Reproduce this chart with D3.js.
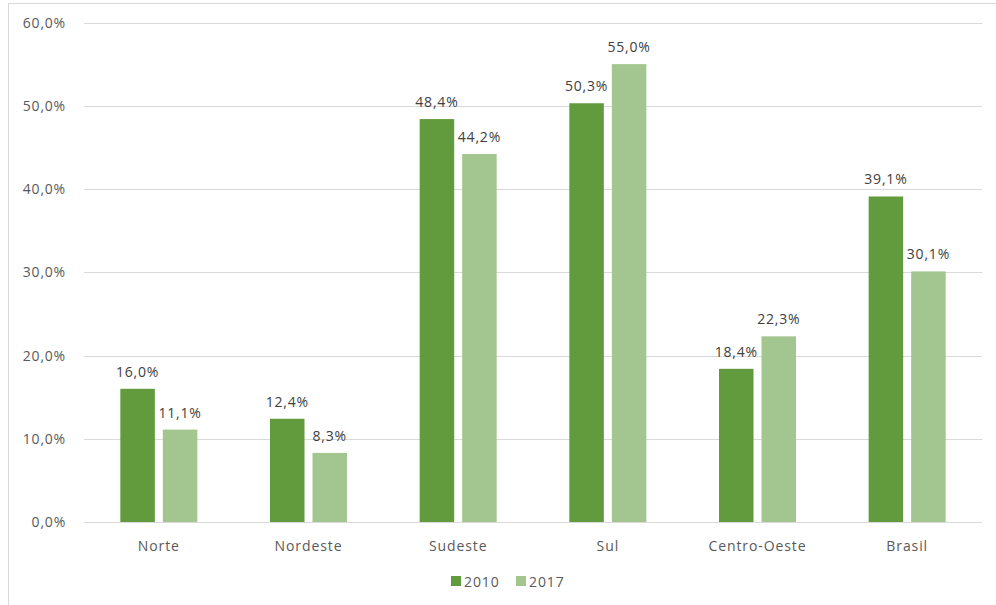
<!DOCTYPE html>
<html>
<head>
<meta charset="utf-8">
<script src="https://cdn.jsdelivr.net/npm/d3@7"></script>
<style>
  html, body { margin: 0; padding: 0; background: #fff; }
  svg { display: block; font-family: "Open Sans", sans-serif; }
</style>
</head>
<body>
<div id="chart"></div>
<script>
(() => {
  // data
  const categories = ["Norte", "Nordeste", "Sudeste", "Sul", "Centro-Oeste", "Brasil"];
  const seriesNames = ["2010", "2017"];
  const values2010 = [16.0, 12.4, 48.4, 50.3, 18.4, 39.1];
  const values2017 = [11.1, 8.3, 44.2, 55.0, 22.3, 30.1];
  const yTicks = [0, 10, 20, 30, 40, 50, 60];
  const colors = ["#629a3e", "#a3c58f"];

  const width = 996, height = 605;
  const fmt = v => v.toFixed(1).replace(".", ",") + "%";

  const svg = d3.select("#chart").append("svg")
    .attr("width", width).attr("height", height);

  // chart frame
  svg.append("rect")
    .attr("x", 8.5).attr("y", 3.5)
    .attr("width", width + 20).attr("height", height + 20)
    .attr("fill", "none").attr("stroke", "#d9d9d9").attr("stroke-width", 1);

  const x = d3.scaleBand().domain(categories).range([84, 982]);
  const y = d3.scaleLinear().domain([0, 60]).range([522, 22.5]);
  const barW = 34.5, gap = 8;

  // gridlines
  svg.append("g").selectAll("line")
    .data(yTicks)
    .join("line")
    .attr("x1", 84).attr("x2", 982)
    .attr("y1", d => Math.round(y(d)) + 0.5)
    .attr("y2", d => Math.round(y(d)) + 0.5)
    .attr("stroke", "#d9d9d9").attr("stroke-width", 1);

  // y tick labels
  svg.append("g").selectAll("text")
    .data(yTicks)
    .join("text")
    .attr("x", 66).attr("y", d => y(d) + 5)
    .attr("text-anchor", "end")
    .attr("font-size", 14).attr("letter-spacing", 0.8)
    .attr("fill", "#595959")
    .text(d => fmt(d));

  const series = [values2010, values2017];
  const offsets = [-gap / 2 - barW, gap / 2];

  series.forEach((vals, si) => {
    const g = svg.append("g");
    g.selectAll("rect")
      .data(vals)
      .join("rect")
      .attr("x", (d, i) => x(categories[i]) + x.bandwidth() / 2 + offsets[si])
      .attr("y", d => y(d))
      .attr("width", barW)
      .attr("height", d => y(0) - y(d))
      .attr("fill", colors[si]);

    g.selectAll("text")
      .data(vals)
      .join("text")
      .attr("x", (d, i) => x(categories[i]) + x.bandwidth() / 2 + offsets[si] + barW / 2)
      .attr("y", d => y(d) - 12)
      .attr("text-anchor", "middle")
      .attr("font-size", 14).attr("letter-spacing", 0.8)
      .attr("fill", "#404040")
      .text(d => fmt(d));
  });

  // category labels
  svg.append("g").selectAll("text")
    .data(categories)
    .join("text")
    .attr("x", d => x(d) + x.bandwidth() / 2)
    .attr("y", 551)
    .attr("text-anchor", "middle")
    .attr("font-size", 14).attr("letter-spacing", 0.9)
    .attr("fill", "#595959")
    .text(d => d);

  // legend
  const legendX = [451, 516];
  const legend = svg.append("g").selectAll("g")
    .data(seriesNames)
    .join("g")
    .attr("transform", (d, i) => `translate(${legendX[i]},576)`);
  legend.append("rect")
    .attr("width", 10).attr("height", 10)
    .attr("fill", (d, i) => colors[i]);
  legend.append("text")
    .attr("x", 13).attr("y", 10.5)
    .attr("font-size", 14).attr("letter-spacing", 0.9)
    .attr("fill", "#595959")
    .text(d => d);
})();
</script>
</body>
</html>
